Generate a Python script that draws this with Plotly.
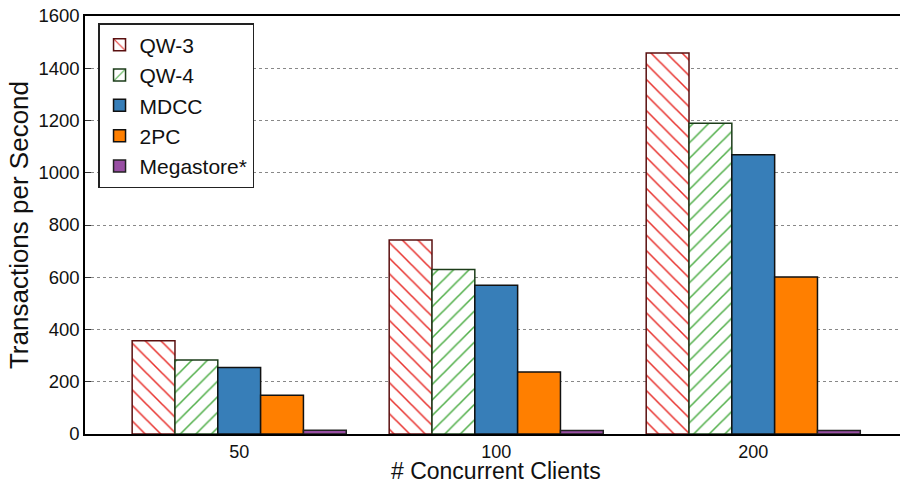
import plotly.graph_objects as go

clients = ["50", "100", "200"]
qw3 = [357, 743, 1458]
qw4 = [283, 630, 1189]
mdcc = [255, 569, 1069]
tpc = [148, 237, 601]
megastore = [14, 13, 13]

series = [
    ("QW-3", qw3, dict(fillmode="replace", shape="\\", fgcolor="#e8302c", bgcolor="white", size=11, solidity=0.14), "white", "#5a1010"),
    ("QW-4", qw4, dict(fillmode="replace", shape="/", fgcolor="#4fae48", bgcolor="white", size=11, solidity=0.14), "white", "#1d3d1a"),
    ("MDCC", mdcc, None, "#377eb8", "#111111"),
    ("2PC", tpc, None, "#ff7f00", "#111111"),
    ("Megastore*", megastore, None, "#984ea3", "#222222"),
]

fig = go.Figure()
for name, vals, pat, color, lc in series:
    kw = dict(marker_color=color, marker_line=dict(color=lc, width=1.5))
    if pat:
        kw["marker_pattern"] = pat
    fig.add_trace(go.Bar(x=clients, y=vals, name=name, **kw))

font = "Liberation Sans, Arial, Helvetica, sans-serif"
fig.update_layout(
    width=900, height=483,
    margin=dict(l=85, r=0, t=16, b=49, autoexpand=False),
    barmode="group", bargap=0.167, bargroupgap=0,
    plot_bgcolor="white", paper_bgcolor="white",
    font=dict(family=font, size=18.5, color="#111"),
    legend=dict(
        x=0.016, y=0.983, xanchor="left", yanchor="top",
        bordercolor="#222", borderwidth=1.5, bgcolor="white",
        font=dict(size=21, family=font),
        tracegroupgap=0,
    ),
    xaxis=dict(
        range=[-0.6, 2.571], showline=True, linecolor="black", linewidth=2,
        mirror=True, ticks="", showgrid=False, automargin=False,
        tickfont=dict(size=18),
    ),
    yaxis=dict(
        range=[0, 1600], tickvals=[0, 200, 400, 600, 800, 1000, 1200, 1400, 1600],
        showline=True, linecolor="black", linewidth=1.5, automargin=False,
        ticks="inside", ticklen=6, tickcolor="#333",
        showgrid=True, gridcolor="#888", griddash="dot", gridwidth=1,
        zeroline=False,
        title=dict(text="Transactions per Second", font=dict(size=26), standoff=2),
        tickfont=dict(size=18.5),
    ),
    annotations=[dict(
        text="# Concurrent Clients", xref="paper", yref="paper",
        x=0.504, y=-0.088, xanchor="center", yanchor="middle",
        showarrow=False, font=dict(size=23, family=font, color="#111"),
    )],
)

fig.write_html("out.html", config={"displayModeBar": False},
               post_script="document.body.style.margin='0';document.body.style.overflow='hidden';")
